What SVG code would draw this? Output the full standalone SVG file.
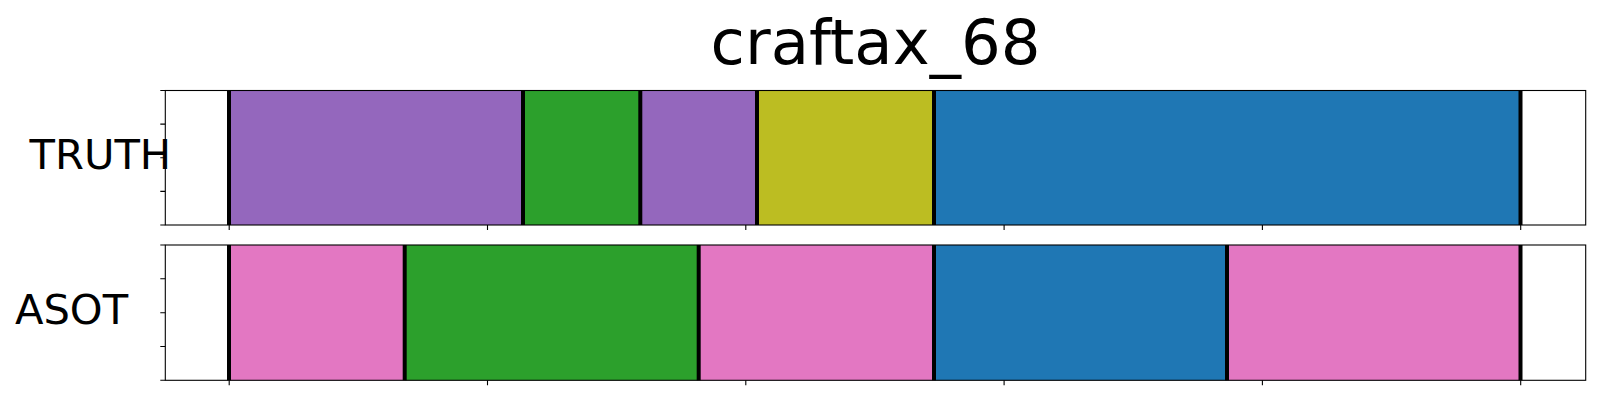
<svg xmlns="http://www.w3.org/2000/svg" width="1600" height="400" viewBox="0 0 1600 400">
<style>
text{font-family:"DejaVu Sans","Liberation Sans",sans-serif;fill:#000}
.t{font-size:62.5px}
.l{font-size:41.67px}
.frame{fill:none;stroke:#000;stroke-width:1.1}
.tick{stroke:#000;stroke-width:1.1}
.b{stroke:#000;stroke-width:4}
.pu{fill:#9467bd}.gr{fill:#2ca02c}.ol{fill:#bcbd22}.bl{fill:#1f77b4}.pk{fill:#e377c2}
</style>
<rect width="1600" height="400" fill="#fff"/>
<text class="t" x="875.5" y="64" text-anchor="middle">craftax_68</text>
<g id="truth">
<rect class="pu" x="229" y="90.5" width="294" height="134.5"/>
<rect class="gr" x="523" y="90.5" width="117.3" height="134.5"/>
<rect class="pu" x="640.3" y="90.5" width="116.7" height="134.5"/>
<rect class="ol" x="757" y="90.5" width="177" height="134.5"/>
<rect class="bl" x="934" y="90.5" width="586.5" height="134.5"/>
<g>
<line class="b" x1="229" y1="90.5" x2="229" y2="225"/>
<line class="b" x1="523" y1="90.5" x2="523" y2="225"/>
<line class="b" x1="640.3" y1="90.5" x2="640.3" y2="225"/>
<line class="b" x1="757" y1="90.5" x2="757" y2="225"/>
<line class="b" x1="934" y1="90.5" x2="934" y2="225"/>
<line class="b" x1="1520.5" y1="90.5" x2="1520.5" y2="225"/>
</g>
<rect class="frame" x="165.3" y="90.5" width="1420.4" height="134.5"/>
<path class="tick" d="M160.3 90.5H165.3M160.3 124.1H165.3M160.3 157.8H165.3M160.3 191.4H165.3M160.3 225H165.3M229.2 225V230M487.5 225V230M745.8 225V230M1004.1 225V230M1262.4 225V230M1520.7 225V230"/>
<text class="l" x="29.5" y="168.5">TRUTH</text>
</g>
<g id="asot">
<rect class="pk" x="229" y="245" width="175.7" height="135.3"/>
<rect class="gr" x="404.7" y="245" width="294" height="135.3"/>
<rect class="pk" x="698.7" y="245" width="235.3" height="135.3"/>
<rect class="bl" x="934" y="245" width="293" height="135.3"/>
<rect class="pk" x="1227" y="245" width="293.5" height="135.3"/>
<g>
<line class="b" x1="229" y1="245" x2="229" y2="380.3"/>
<line class="b" x1="404.7" y1="245" x2="404.7" y2="380.3"/>
<line class="b" x1="698.7" y1="245" x2="698.7" y2="380.3"/>
<line class="b" x1="934" y1="245" x2="934" y2="380.3"/>
<line class="b" x1="1227" y1="245" x2="1227" y2="380.3"/>
<line class="b" x1="1520.5" y1="245" x2="1520.5" y2="380.3"/>
</g>
<rect class="frame" x="165.3" y="245" width="1420.4" height="135.3"/>
<path class="tick" d="M160.3 245H165.3M160.3 278.8H165.3M160.3 312.7H165.3M160.3 346.5H165.3M160.3 380.3H165.3M229.2 380.3V385.3M487.5 380.3V385.3M745.8 380.3V385.3M1004.1 380.3V385.3M1262.4 380.3V385.3M1520.7 380.3V385.3"/>
<text class="l" x="71.5" y="323.5" text-anchor="middle">ASOT</text>
</g>
</svg>
